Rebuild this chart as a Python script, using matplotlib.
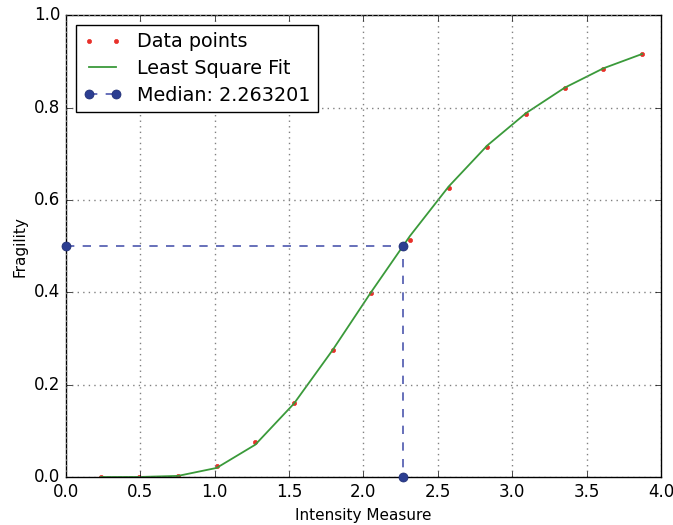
"""
Fragility curve: data points, least square lognormal fit and median marker.
"""

import matplotlib
matplotlib.use('Agg')
import matplotlib.pyplot as plt

# Data
im_values = [0.233, 0.493, 0.753, 1.013, 1.273, 1.533, 1.793, 2.053,
             2.313, 2.573, 2.833, 3.093, 3.353, 3.613, 3.873]
frag_data = [0.0, 0.0005, 0.003, 0.024, 0.076, 0.161, 0.275, 0.398,
             0.514, 0.625, 0.714, 0.786, 0.843, 0.884, 0.916]
frag_fit = [0.0, 0.0001, 0.0024, 0.0197, 0.070, 0.159, 0.275, 0.401,
            0.522, 0.629, 0.718, 0.788, 0.843, 0.885, 0.916]
median = 2.263201
median_x = [0.0, median, median]
median_y = [0.5, 0.5, 0.0]

# Plot
plt.style.use('classic')
fig = plt.figure(figsize=(6.73, 5.25), dpi=100, facecolor='white')
ax = fig.add_axes([0.098, 0.0914, 0.884, 0.8796])

ax.plot(im_values, frag_data, '.', color='#e8302a', markersize=6, label='Data points')
ax.plot(im_values, frag_fit, '-', color='#3a9a3a', linewidth=1.3, label='Least Square Fit')
ax.plot(median_x, median_y, '--o', color='#5a64b4', linewidth=1.3,
        markerfacecolor='#2c3e91', markeredgecolor='#1c2a70', markersize=6.5,
        label='Median: %f' % median, clip_on=False, zorder=5)

ax.set_xlim(0, 4.0)
ax.set_ylim(0, 1.0)
ax.set_xlabel('Intensity Measure', fontsize=11)
ax.set_ylabel('Fragility', fontsize=11)
ax.grid(True, color='#808080', linestyle=':', linewidth=1.0)
ax.legend(loc='upper left', numpoints=2, fontsize=13.8, fancybox=False,
          borderaxespad=0.5, labelspacing=0.4)

fig.savefig('out.png', dpi=100, facecolor='white')
